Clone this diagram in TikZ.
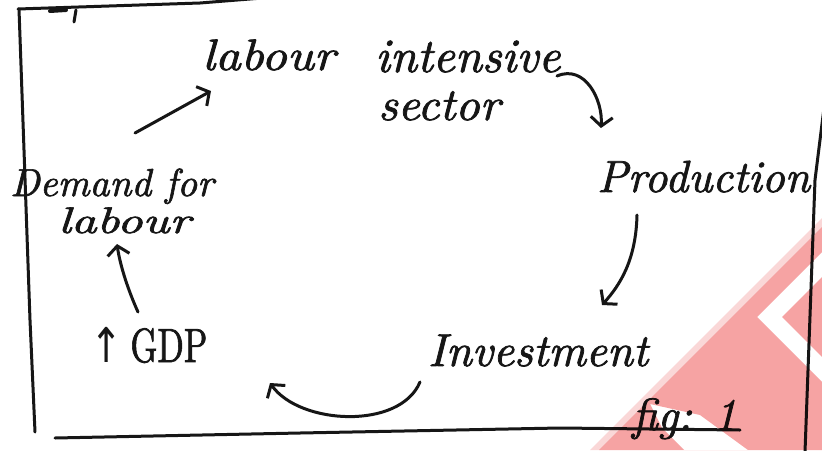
\documentclass[tikz,border=0pt]{standalone}
\usepackage{fontspec}
\newfontfamily\arrowglyphs{DejaVu Sans}
\newfontfamily\penitalic{lmroman10-italic.otf}[FakeBold=1.6]
\newfontfamily\penupright{lmroman10-regular.otf}[FakeBold=1.6]
\usetikzlibrary{arrows.meta,calc}

\definecolor{ink}{RGB}{22,22,22}
\definecolor{wmpink}{RGB}{246,163,163}
\definecolor{wmedge}{RGB}{250,215,215}

\newcommand\hwfont[1]{\fontsize{#1}{#1}\penitalic}
\newcommand\widetext[2]{\scalebox{#1}[1]{#2}}

\tikzset{
  frameline/.style={draw=ink, line width=3pt, line cap=round, line join=round},
  hand/.style={text=ink, inner sep=0pt, anchor=base west},
  flow/.style={draw=ink, line width=3pt, line cap=round,
    -{Straight Barb[length=9pt,width=22pt]}},
}

\begin{document}
\begin{tikzpicture}[x=1pt,y=-1pt]
\useasboundingbox (0,0) rectangle (822,450);
\clip (0,0) rectangle (822,450);
\fill[white] (0,0) rectangle (822,450);

% hand-drawn frame: top stroke runs off the page, right stroke starts off it
\draw[frameline] (18,9) -- (200,3) -- (300,-5);
\draw[frameline] (19,9) -- (24,150) -- (30,320) -- (35,432);
\draw[frameline] (55,438) -- (300,433) -- (560,428) -- (740,430);
\draw[frameline] (826,92) -- (815,180) -- (805,452);
\draw[frameline, line width=4pt] (50,11) -- (66,10);
\draw[frameline] (76,10) -- (74,22);

% labels of the cycle
\node[hand, font=\hwfont{44}] (lab) at (202,70) {\widetext{1.14}{labour}};
\node[hand, font=\hwfont{48}] (int) at (375,72) {intensive};
\node[hand, font=\hwfont{46}] (sec) at (378,120) {\widetext{1.04}{sector}};
\node[hand, font=\hwfont{45}] (prod) at (597,192) {Production};
\node[hand, font=\hwfont{46}] (inv) at (428,366) {Investment};
\node[hand, font=\fontsize{48}{48}\penupright] (gdp) at (90,362)
  {{\arrowglyphs\widetext{0.8}{↑}}\hspace{8pt}\widetext{0.72}{GDP}};
\node[hand, font=\hwfont{39}] (dem) at (10,196) {Demand for};
\node[hand, font=\hwfont{37}] (lab2) at (58,233) {\widetext{1.35}{labour}};
\node[hand, font=\hwfont{45}] (fig) at (632,430) {fig: 1};

% arrows of the cycle
\draw[flow] ($(int.base west)+(182,4)$) .. controls +(28,-12) and +(2,-28) .. ($(prod.base west)+(4,-64)$);
\draw[flow] ($(prod.base west)+(40,23)$) .. controls +(-1,45) and +(18,-20) .. ($(inv.base west)+(174,-61)$);
\draw[flow] ($(inv.base west)+(-8,16)$) .. controls +(-20,48) and +(30,42) .. ($(gdp.base west)+(180,21)$);
\draw[flow] ($(gdp.base west)+(48,-50)$) .. controls +(-10,-22) and +(3,21) .. ($(lab2.base west)+(59,11)$);
\draw[flow] ($(dem.base west)+(125,-63)$) -- ($(lab.base west)+(9,21)$);

% watermark in the lower right corner
\begin{scope}[blend mode=multiply]
\fill[wmedge] (590,450) -- (822,218) -- (822,227) -- (599,450) -- cycle;
\fill[wmpink, even odd rule] (599,450) -- (822,227) -- (822,450) -- cycle
   (757,317) -- (822,252) -- (822,277) -- (782,317) -- (822,357) -- (822,382) -- cycle
   (650,404) -- (700,415) -- (748,450) -- (684,450) -- (662,428) -- cycle;
\end{scope}
\end{tikzpicture}
\end{document}
